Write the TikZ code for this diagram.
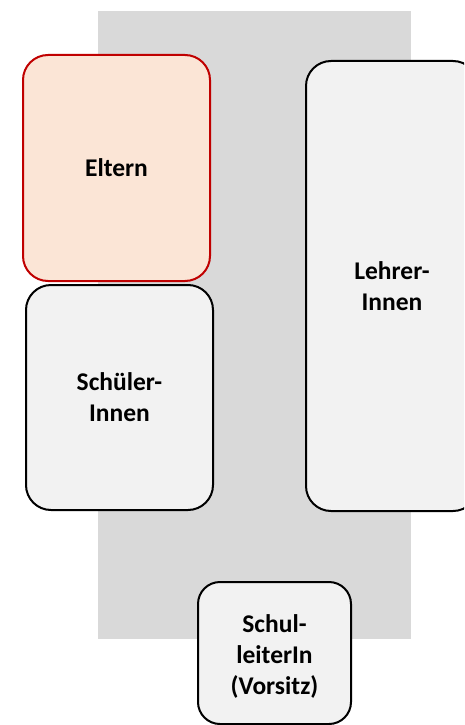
\documentclass[tikz,border=0pt]{standalone}
\usepackage{fontspec}
\setmainfont{Carlito}
\definecolor{bggray}{HTML}{D9D9D9}
\definecolor{boxfill}{HTML}{F2F2F2}
\definecolor{peach}{HTML}{FBE5D6}
\definecolor{darkred}{HTML}{C00000}
\tikzset{
  card/.style={rectangle, rounded corners=25pt, draw=black, line width=2pt, fill=boxfill,
    align=center, inner sep=0pt, font=\bfseries\fontsize{25.5}{31}\selectfont},
  parent/.style={card, draw=darkred, fill=peach}
}
\begin{document}
\begin{tikzpicture}[x=1pt,y=-1pt]
\useasboundingbox (0,0) rectangle (464,725);
\clip (0,0) rectangle (464,725);
\fill[white] (0,0) rectangle (464,725);
\fill[bggray] (98,11) rectangle (411,639);
\node[parent, minimum width=187pt, minimum height=226pt] (eltern) at (116.5,168) {Eltern};
\node[card, minimum width=172pt, minimum height=450pt] (lehrer) at (392,286) {Lehrer-\\Innen};
\node[card, minimum width=187pt, minimum height=225pt] (schueler) at (119.5,397.5) {Schüler-\\Innen};
\node[card, rounded corners=22pt, minimum width=153pt, minimum height=142pt] (leiter) at (274.5,653) {};
\node[align=center, inner sep=0pt, font=\bfseries\fontsize{25.5}{31}\selectfont] (leitertext) at (274.5,656) {Schul-\\leiterIn\\(Vorsitz)};
\end{tikzpicture}
\end{document}
